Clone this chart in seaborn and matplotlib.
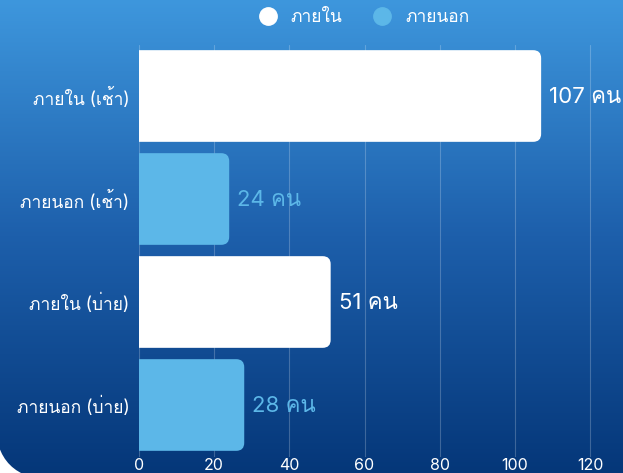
import matplotlib
matplotlib.use("Agg")
import numpy as np
import pandas as pd
import matplotlib.pyplot as plt
import seaborn as sns
from matplotlib import font_manager
from matplotlib.ft2font import FT2Font
from matplotlib.patches import FancyBboxPatch
from matplotlib.lines import Line2D
from matplotlib.colors import LinearSegmentedColormap

# data
categories = ['ภายใน (เช้า)', 'ภายนอก (เช้า)', 'ภายใน (บ่าย)', 'ภายนอก (บ่าย)']
groups = ['ภายใน', 'ภายนอก', 'ภายใน', 'ภายนอก']
counts = [107, 24, 51, 28]
unit = 'คน'
x_ticks = [0, 20, 40, 60, 80, 100, 120]

colors = {'ภายใน': '#ffffff', 'ภายนอก': '#5cb7e8'}


# find any installed font that has Thai glyphs
def find_thai_font():
    for f in font_manager.fontManager.ttflist:
        try:
            if FT2Font(f.fname).get_char_index(0x0E20):
                return f.name
        except Exception:
            pass
    return None


sns.set_style('white')
thai = find_thai_font()
fams = ['Inter', 'DejaVu Sans']
if thai:
    fams.insert(1, thai)
plt.rcParams['font.family'] = fams

df = pd.DataFrame({'category': categories, 'group': groups, 'count': counts})

W, H = 623, 473
fig = plt.figure(figsize=(W / 100, H / 100), dpi=100, facecolor='white')

# gradient card background with rounded corner
bg = fig.add_axes([0, 0, 1, 1])
bg.set_xlim(0, W)
bg.set_ylim(0, H)
bg.axis('off')
cmap = LinearSegmentedColormap.from_list('bg', ['#053779', '#1d5fab', '#3e97dd'])
grad = np.linspace(0, 1, 256).reshape(-1, 1)
im = bg.imshow(grad, cmap=cmap, origin='lower', aspect='auto', extent=[0, W, 0, H])
card = FancyBboxPatch((-5, -7), 700, 520, boxstyle='round,pad=0,rounding_size=60',
                      transform=bg.transData, facecolor='none', edgecolor='none')
bg.add_patch(card)
im.set_clip_path(card)

# main axes
top, bottom = 44.5, 456.5
ax = fig.add_axes([139 / W, 1 - bottom / H, 1 - 139 / W, (bottom - top) / H])
ax.patch.set_alpha(0)
xmax = (W - 139) / ((590 - 139) / 120)

sns.barplot(data=df, x='count', y='category', hue='group', palette=colors,
            dodge=False, width=0.89, saturation=1, legend=False, ax=ax)

ax.set_xlim(0, xmax)
ax.set_ylim(3.5, -0.5)

# swap plain bars for bars with rounded right corners
rx = 8 / ((W - 139) / xmax)
ry = 8 / ((bottom - top) / 4)
for p in list(ax.patches):
    x0, y0, w, h = p.get_x(), p.get_y(), p.get_width(), p.get_height()
    if w <= 0:
        p.remove()
        continue
    fc = p.get_facecolor()
    p.remove()
    ax.add_patch(FancyBboxPatch((x0 - rx, y0), w + rx, h,
                                boxstyle=f'round,pad=0,rounding_size={rx}',
                                mutation_aspect=ry / rx, facecolor=fc,
                                edgecolor='none', zorder=3))

for i, (v, g) in enumerate(zip(counts, groups)):
    ax.text(v + 2.1, i + 0.01, f'{v} {unit}', va='center', ha='left',
            color=colors[g], fontsize=16, zorder=4)

ax.set_xticks(x_ticks)
ax.grid(axis='x', color='white', alpha=0.22, linewidth=0.8)
ax.grid(axis='y', visible=False)
ax.set_axisbelow(True)
for s in ax.spines.values():
    s.set_visible(False)
ax.tick_params(axis='x', length=0, pad=1, labelsize=11.5, labelcolor='white')
ax.tick_params(axis='y', length=0, pad=7, labelsize=12.5, labelcolor='white')
ax.set_xlabel('')
ax.set_ylabel('')

handles = [Line2D([], [], marker='o', ls='', markersize=12.5, color=colors[g]) for g in ['ภายใน', 'ภายนอก']]
fig.legend(handles, ['ภายใน', 'ภายนอก'], loc='center', bbox_to_anchor=(0.578, 1 - 18 / H),
           ncol=2, frameon=False, labelcolor='white', fontsize=12.5,
           handletextpad=0.3, columnspacing=1.3)

fig.savefig('out.png', dpi=100, facecolor='white')
